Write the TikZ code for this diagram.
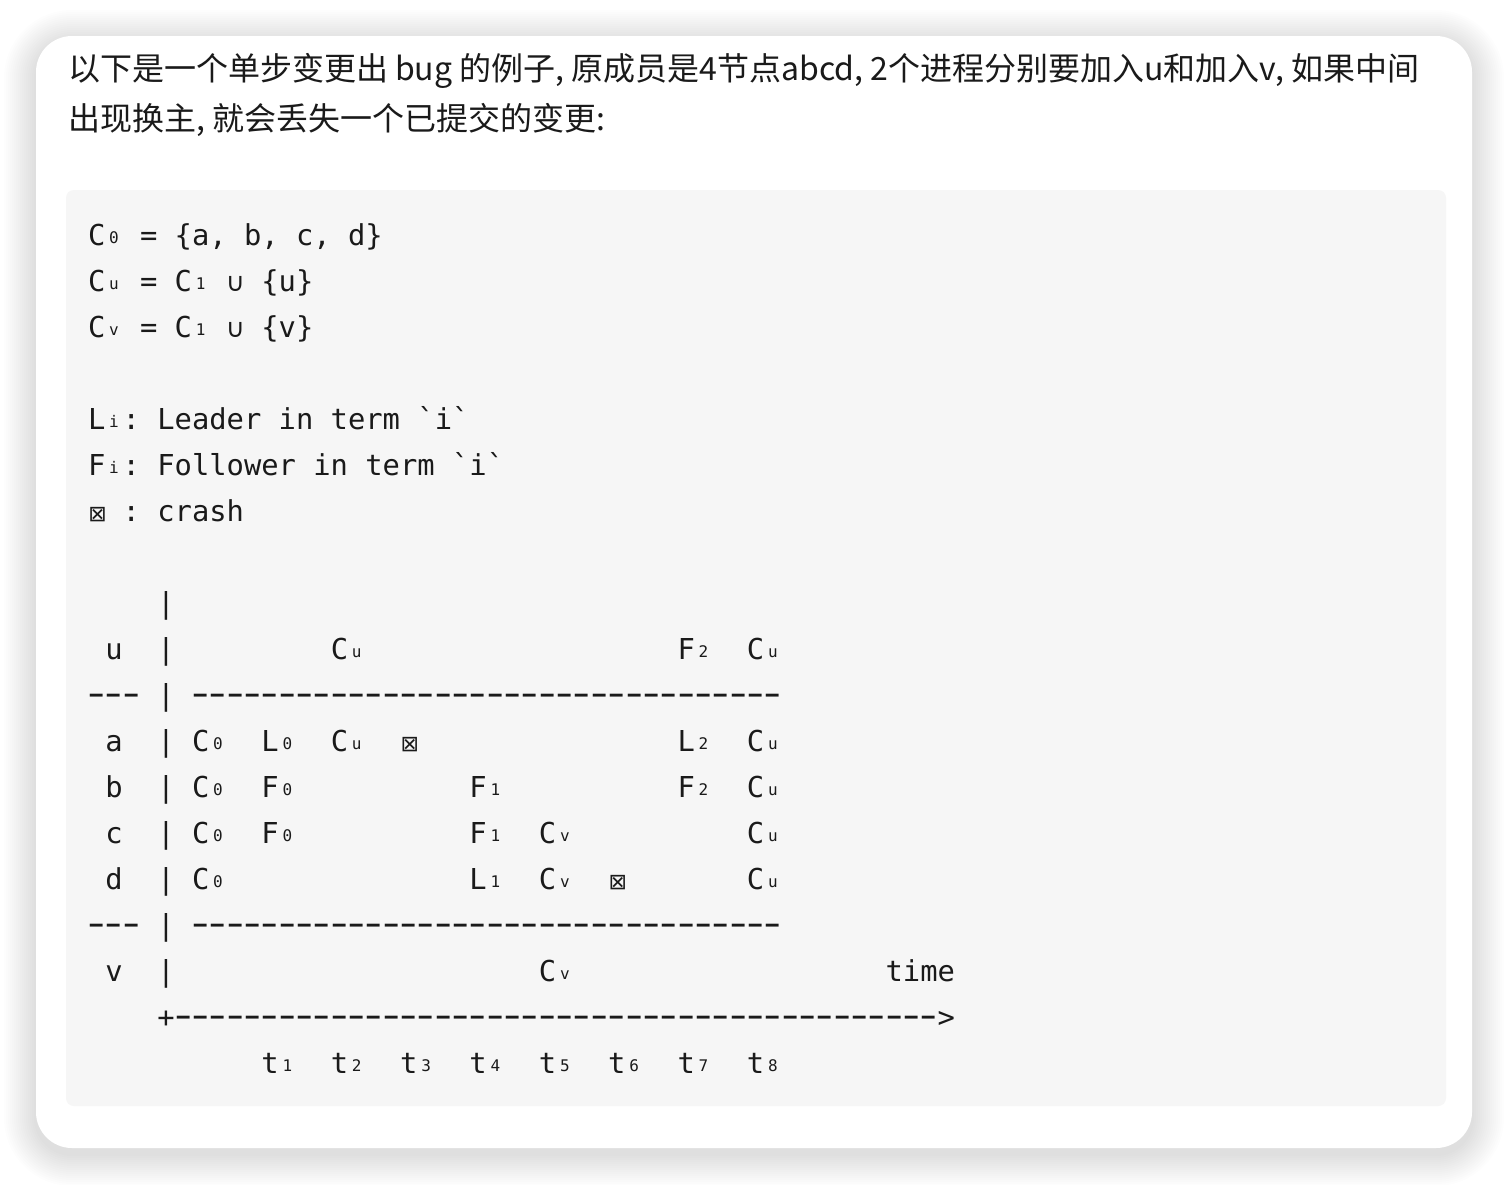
\documentclass[tikz,border=0pt]{standalone}
\usepackage{fontspec}
\usepackage{graphicx}
\setmonofont{DejaVu Sans Mono}
\newfontfamily\cjk{Noto Sans CJK SC}
\newfontfamily\symf{DejaVu Sans}
\definecolor{codebg}{HTML}{F6F6F6}
\definecolor{ink}{HTML}{1A1A1A}
\newlength\cwd
\setlength\cwd{8.6695pt}
\newcommand\subc[1]{\makebox[\cwd][c]{\raisebox{0.7pt}{\fontsize{8pt}{8pt}\selectfont #1}}}
\newcommand\crashsym{\makebox[\cwd][l]{\kern0.2pt\symf\fontsize{11pt}{11pt}\selectfont ⊠}}
\newcommand\cupsym{\makebox[\cwd][c]{\symf\fontsize{13pt}{13pt}\selectfont ∪}}
\newcommand\dsh{\makebox[\cwd][c]{\scalebox{1.75}[1.25]{-}}}
\newcommand\dashrun[1]{\foreach \k in {1,...,#1}{\dsh}}
\newcommand\tk[4]{\node[code] (#1) at ({88+17.339*#3},{245+46*#2}) {#4};}
\begin{document}
\begin{tikzpicture}[x=0.5pt,y=-0.5pt,
  code/.style={anchor=base west, inner sep=0pt, outer sep=0pt, font=\ttfamily\fontsize{14.4pt}{14.4pt}\selectfont, text=ink},
  cn/.style={anchor=base west, inner sep=0pt, outer sep=0pt, font=\cjk\fontsize{16pt}{16pt}\selectfont, text=ink}]
\useasboundingbox (0,0) rectangle (1508,1184);
\fill[white] (0,0) rectangle (1508,1184);
% shadow
\foreach \i in {1,...,16}{
  \fill[black,opacity=0.009,rounded corners={(18+\i)*1pt}] ({36-2*\i},{36-2*\i+6}) rectangle ({1472+2*\i},{1148+2*\i+6});
}
\fill[white,rounded corners=18pt] (36,36) rectangle (1472,1148);
\fill[codebg,rounded corners=4pt] (66,190) rectangle (1446,1106);
% paragraph
\node[cn] (p1) at (68,80) {以下是一个单步变更出 bug 的例子, 原成员是4节点abcd, 2个进程分别要加入u和加入v, 如果中间};
\node[cn] (p2) at (68,130) {出现换主, 就会丢失一个已提交的变更:};
% definitions
\tk{c0}{0}{0}{C\subc{0} = \{a, b, c, d\}}
\tk{cu}{1}{0}{C\subc{u} = C\subc{1} \cupsym{} \{u\}}
\tk{cv}{2}{0}{C\subc{v} = C\subc{1} \cupsym{} \{v\}}
\tk{li}{4}{0}{L\subc{i}: Leader in term \textasciigrave{}i\textasciigrave}
\tk{fi}{5}{0}{F\subc{i}: Follower in term \textasciigrave{}i\textasciigrave}
\tk{cr}{6}{0}{\crashsym{} : crash}
% grid
\tk{bar8}{8}{4}{|}
\tk{ulab}{9}{1}{u}
\tk{bar9}{9}{4}{|}
\tk{u14}{9}{14}{C\subc{u}}
\tk{u34}{9}{34}{F\subc{2}}
\tk{u38}{9}{38}{C\subc{u}}
\tk{sAl}{10}{0}{\dashrun{3}}
\tk{sAb}{10}{4}{|}
\tk{sAr}{10}{6}{\dashrun{34}}
\tk{alab}{11}{1}{a}
\tk{bar11}{11}{4}{|}
\tk{a6}{11}{6}{C\subc{0}}
\tk{a10}{11}{10}{L\subc{0}}
\tk{a14}{11}{14}{C\subc{u}}
\tk{a18}{11}{18}{\crashsym}
\tk{a34}{11}{34}{L\subc{2}}
\tk{a38}{11}{38}{C\subc{u}}
\tk{blab}{12}{1}{b}
\tk{bar12}{12}{4}{|}
\tk{b6}{12}{6}{C\subc{0}}
\tk{b10}{12}{10}{F\subc{0}}
\tk{b22}{12}{22}{F\subc{1}}
\tk{b34}{12}{34}{F\subc{2}}
\tk{b38}{12}{38}{C\subc{u}}
\tk{clab}{13}{1}{c}
\tk{bar13}{13}{4}{|}
\tk{c6}{13}{6}{C\subc{0}}
\tk{c10}{13}{10}{F\subc{0}}
\tk{c22}{13}{22}{F\subc{1}}
\tk{c26}{13}{26}{C\subc{v}}
\tk{c38}{13}{38}{C\subc{u}}
\tk{dlab}{14}{1}{d}
\tk{bar14}{14}{4}{|}
\tk{d6}{14}{6}{C\subc{0}}
\tk{d22}{14}{22}{L\subc{1}}
\tk{d26}{14}{26}{C\subc{v}}
\tk{d30}{14}{30}{\crashsym}
\tk{d38}{14}{38}{C\subc{u}}
\tk{sBl}{15}{0}{\dashrun{3}}
\tk{sBb}{15}{4}{|}
\tk{sBr}{15}{6}{\dashrun{34}}
\tk{vlab}{16}{1}{v}
\tk{bar16}{16}{4}{|}
\tk{v26}{16}{26}{C\subc{v}}
\tk{time}{16}{46}{time}
\tk{axis}{17}{4}{+\dashrun{44}>}
\tk{t1}{18}{10}{t\subc{1}}
\tk{t2}{18}{14}{t\subc{2}}
\tk{t3}{18}{18}{t\subc{3}}
\tk{t4}{18}{22}{t\subc{4}}
\tk{t5}{18}{26}{t\subc{5}}
\tk{t6}{18}{30}{t\subc{6}}
\tk{t7}{18}{34}{t\subc{7}}
\tk{t8}{18}{38}{t\subc{8}}
\end{tikzpicture}
\end{document}
